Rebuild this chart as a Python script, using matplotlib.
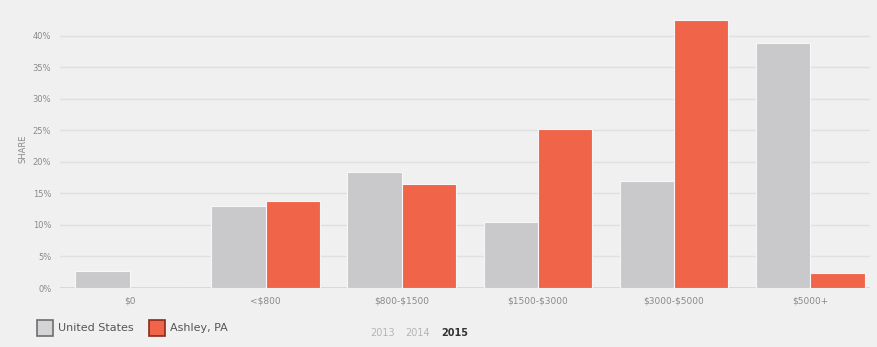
import matplotlib
matplotlib.use("Agg")
import matplotlib.pyplot as plt
import numpy as np
from matplotlib.patches import Rectangle

categories = ["$0", "<$800", "$800-$1500", "$1500-$3000", "$3000-$5000", "$5000+"]
us_share = [2.7, 13.0, 18.4, 10.5, 17.0, 38.9]
ashley_share = [0.0, 13.8, 16.5, 25.2, 42.5, 2.4]
y_ticks = [0, 5, 10, 15, 20, 25, 30, 35, 40]
years = ["2013", "2014", "2015"]

bg = "#f0f0f0"
gray = "#c9c9cc"
orange = "#f0654a"
text_col = "#8a8a8a"

fig = plt.figure(figsize=(8.77, 3.47), dpi=100, facecolor=bg)
ax = fig.add_axes([0.068, 0.170, 0.924, 0.801], facecolor=bg)

x = np.arange(len(categories))
w = 0.4
ax.bar(x - w / 2, us_share, width=w, color=gray, edgecolor="#f7f7f7", linewidth=0.8, zorder=3)
ax.bar(x + w / 2, ashley_share, width=w, color=orange, edgecolor="#f7f7f7", linewidth=0.8, zorder=3)

ax.set_xlim(-0.515, 5.44)
ax.set_ylim(0, 44.1)
ax.set_yticks(y_ticks)
ax.set_yticklabels([f"{t}%" for t in y_ticks], fontsize=6, color=text_col)
ax.set_xticks(x)
ax.set_xticklabels([c.replace("$", r"\$") for c in categories], fontsize=6.5, color=text_col)
ax.tick_params(axis="both", length=0, pad=6)
ax.grid(axis="y", color="#e0e0e0", linewidth=1.0, zorder=0)
ax.axhline(0, color="#d4d4d4", linewidth=1.2, zorder=1)
for s in ax.spines.values():
    s.set_visible(False)
ax.set_ylabel("SHARE", fontsize=6, color=text_col, labelpad=4)

# legend swatches and labels
fig.patches.append(Rectangle((37 / 877, 1 - 336 / 347), 16 / 877, 16 / 347, transform=fig.transFigure,
                             facecolor="#d4d4d6", edgecolor="#6e6e6e", linewidth=1.2))
fig.text(58 / 877, 1 - 328 / 347, "United States", fontsize=8, color="#555555", va="center")
fig.patches.append(Rectangle((149 / 877, 1 - 336 / 347), 16 / 877, 16 / 347, transform=fig.transFigure,
                             facecolor=orange, edgecolor="#8a2a1a", linewidth=1.2))
fig.text(170 / 877, 1 - 328 / 347, "Ashley, PA", fontsize=8, color="#555555", va="center")

# year selector
year_x = [383, 418, 455]
for yr, xp in zip(years, year_x):
    bold = yr == years[-1]
    fig.text(xp / 877, 1 - 333 / 347, yr, fontsize=7, ha="center", va="center",
             color="#333333" if bold else "#b5b5b5", fontweight="bold" if bold else "normal")

fig.savefig("out.png", dpi=100, facecolor=bg)
